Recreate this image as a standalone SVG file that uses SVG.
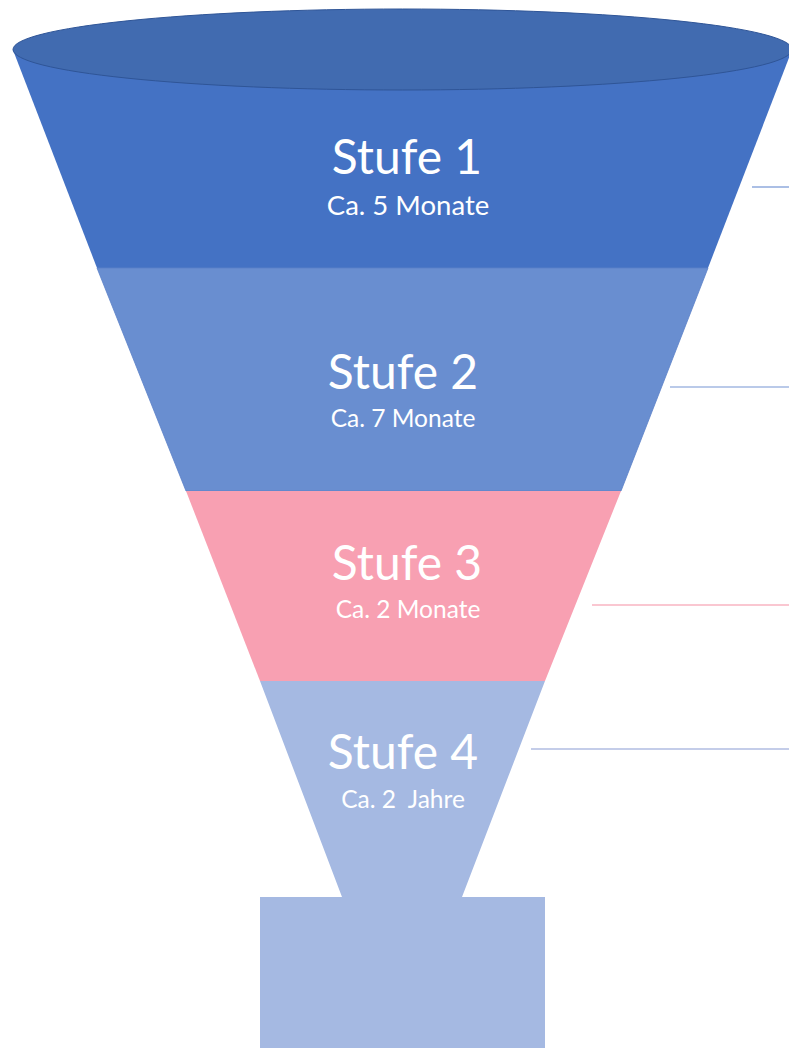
<svg xmlns="http://www.w3.org/2000/svg" width="789" height="1048" viewBox="0 0 789 1048">
<style>
.t{font-family:Lato,"Open Sans","Liberation Sans",sans-serif;fill:#fff;text-anchor:middle}
.big{font-size:48px}
.sub{font-size:24.5px}
.ln{stroke-width:1.5;fill:none}
</style>
<rect width="789" height="1048" fill="#fff"/>
<g id="stufe1">
<polygon points="13,50 792,50 708,268 97,268" fill="#4472c4"/>
<ellipse cx="402.5" cy="49.5" rx="389.5" ry="40.5" fill="#416bb0" stroke="#2f5597" stroke-width="1"/>
<text class="t big" x="407" y="174">Stufe 1</text>
<text class="t sub" x="408" y="215" style="font-size:27.5px">Ca. 5 Monate</text>
</g>
<g id="stufe2">
<polygon points="97,268 708,268 621,491 186,491" fill="#698ed0" stroke="#5a80c8" stroke-width="0.8"/>
<text class="t big" x="403" y="389">Stufe 2</text>
<text class="t sub" x="403" y="427">Ca. 7 Monate</text>
</g>
<g id="stufe3">
<polygon points="186,491 621,491 545,681 260,681" fill="#f8a0b2"/>
<text class="t big" x="407" y="580">Stufe 3</text>
<text class="t sub" x="408" y="618">Ca. 2 Monate</text>
</g>
<g id="stufe4">
<polygon points="260,681 545,681 462,897 545,897 545,1048 260,1048 260,897 342,897" fill="#a5b9e2"/>
<text class="t big" x="403" y="769">Stufe 4</text>
<text class="t sub" x="403" y="808" xml:space="preserve">Ca. 2  Jahre</text>
</g>
<g id="connectors">
<line class="ln" x1="752" y1="187" x2="789" y2="187" stroke="#8faadc"/>
<line class="ln" x1="670" y1="387" x2="789" y2="387" stroke="#a3b9e2"/>
<line class="ln" x1="592" y1="605" x2="789" y2="605" stroke="#f8b4c2"/>
<line class="ln" x1="531" y1="749" x2="789" y2="749" stroke="#b0bde2"/>
</g>
</svg>
